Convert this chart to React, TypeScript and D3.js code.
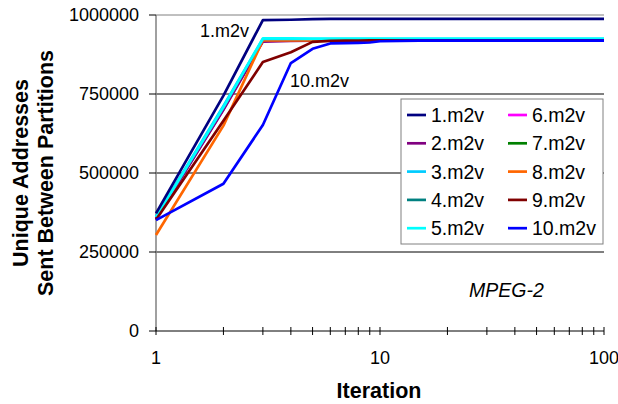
import React from "react";
import * as d3 from "d3";

const iterations = [1, 2, 3, 4, 5, 6, 7, 8, 9, 10, 15, 20, 30, 50, 100];
const s1 = [372000, 745000, 984000, 985000, 987000, 988000, 988000, 988000, 988000, 988000, 988000, 988000, 988000, 988000, 988000];
const s2 = [355000, 700000, 916000, 918000, 919000, 920000, 920000, 920000, 920000, 920000, 920000, 920000, 920000, 920000, 920000];
const s3 = [362000, 712000, 924000, 924000, 924000, 924000, 924000, 924000, 924000, 924000, 924000, 924000, 924000, 924000, 924000];
const s4 = [358000, 705000, 920000, 921000, 921000, 921000, 921000, 921000, 921000, 921000, 921000, 921000, 921000, 921000, 921000];
const s5 = [360000, 708000, 926000, 926000, 925000, 925000, 925000, 925000, 925000, 925000, 925000, 925000, 925000, 925000, 925000];
const s6 = [356000, 702000, 921000, 921000, 921000, 921000, 921000, 921000, 921000, 921000, 921000, 921000, 921000, 921000, 921000];
const s7 = [357000, 703000, 919000, 919000, 919000, 919000, 919000, 919000, 919000, 919000, 919000, 919000, 919000, 919000, 919000];
const s8 = [304000, 650000, 920000, 920000, 920000, 920000, 920000, 920000, 920000, 920000, 920000, 920000, 920000, 920000, 920000];
const s9 = [352000, 665000, 851000, 882000, 915000, 918000, 919000, 919000, 920000, 920000, 920000, 920000, 920000, 920000, 920000];
const s10 = [351000, 466000, 652000, 848000, 893000, 910000, 911000, 912000, 913000, 917000, 919000, 919000, 919000, 919000, 919000];

const seriesNames = ["1.m2v", "2.m2v", "3.m2v", "4.m2v", "5.m2v", "6.m2v", "7.m2v", "8.m2v", "9.m2v", "10.m2v"];
const seriesColors = ["#000080", "#800080", "#00CCFF", "#008080", "#00FFFF", "#FF00FF", "#008000", "#FF6600", "#800000", "#0000FF"];
const seriesValues = [s1, s2, s3, s4, s5, s6, s7, s8, s9, s10];
const drawOrder = [6, 5, 3, 1, 7, 2, 4, 8, 9, 0];

const yTicks = [0, 250000, 500000, 750000, 1000000];
const xTickLabels = [1, 10, 100];

const W = 618, H = 404;
const L = 156, R = 604, T = 15, B = 331;

export default function App() {
  const x = d3.scaleLog().domain([1, 100]).range([L, R]);
  const y = d3.scaleLinear().domain([0, 1000000]).range([B, T]);
  const line = d3.line<[number, number]>().x(d => x(d[0])).y(d => y(d[1]));
  const minor: number[] = [];
  for (const dec of [1, 10]) for (let k = 2; k <= 9; k++) minor.push(k * dec);
  const font = "'Liberation Sans', Arial, sans-serif";

  return (
    <svg width={W} height={H} style={{ position: "absolute", left: 0, top: 0 }} fontFamily={font}>
      {yTicks.filter(v => v > 0).map(v => (
        <line key={v} x1={L} x2={R} y1={y(v)} y2={y(v)} stroke={v === 1000000 ? "#808080" : "#000"} strokeWidth={1} />
      ))}
      <line x1={L} x2={L} y1={T} y2={B} stroke="#808080" strokeWidth={1.5} />
      <line x1={L} x2={R} y1={B} y2={B} stroke="#000" strokeWidth={1} />
      {yTicks.map(v => (
        <g key={v}>
          <line x1={L - 7} x2={L} y1={y(v)} y2={y(v)} stroke="#000" />
          <text x={139} y={y(v) + 6} textAnchor="end" fontSize={18} fill="#000">{v}</text>
        </g>
      ))}
      {[1, 10, 100].concat(minor).map(v => (
        <line key={"t" + v} x1={x(v)} x2={x(v)} y1={B - 4} y2={B + 4} stroke="#000" />
      ))}
      {xTickLabels.map(v => (
        <text key={"xl" + v} x={x(v)} y={364} textAnchor="middle" fontSize={18}>{v}</text>
      ))}
      {drawOrder.map(i => (
        <path key={i} d={line(iterations.map((it, j) => [it, seriesValues[i][j]]) as [number, number][]) || ""}
          fill="none" stroke={seriesColors[i]} strokeWidth={2.7} strokeLinejoin="round" />
      ))}
      <text x={200} y={37} fontSize={18}>1.m2v</text>
      <text x={290} y={87} fontSize={18}>10.m2v</text>
      <text x={469} y={297} fontSize={19.5} fontStyle="italic">MPEG-2</text>
      <g>
        <rect x={401} y={99} width={202} height={145} fill="#fff" stroke="#808080" strokeWidth={1} />
        {seriesNames.map((n, i) => {
          const col = Math.floor(i / 5), row = i % 5;
          const lx = 407 + col * 101, ly = 115 + row * 28.3;
          return (
            <g key={n}>
              <line x1={lx} x2={lx + 19} y1={ly} y2={ly} stroke={seriesColors[i]} strokeWidth={2.7} />
              <text x={lx + 24} y={ly + 7} fontSize={19.5}>{n}</text>
            </g>
          );
        })}
      </g>
      <text transform={`translate(28,${(T + B) / 2}) rotate(-90)`} textAnchor="middle" fontSize={21.5} fontWeight="bold">Unique Addresses</text>
      <text transform={`translate(53,${(T + B) / 2}) rotate(-90)`} textAnchor="middle" fontSize={21.5} fontWeight="bold">Sent Between Partitions</text>
      <text x={379} y={398} textAnchor="middle" fontSize={21.5} fontWeight="bold">Iteration</text>
    </svg>
  );
}
